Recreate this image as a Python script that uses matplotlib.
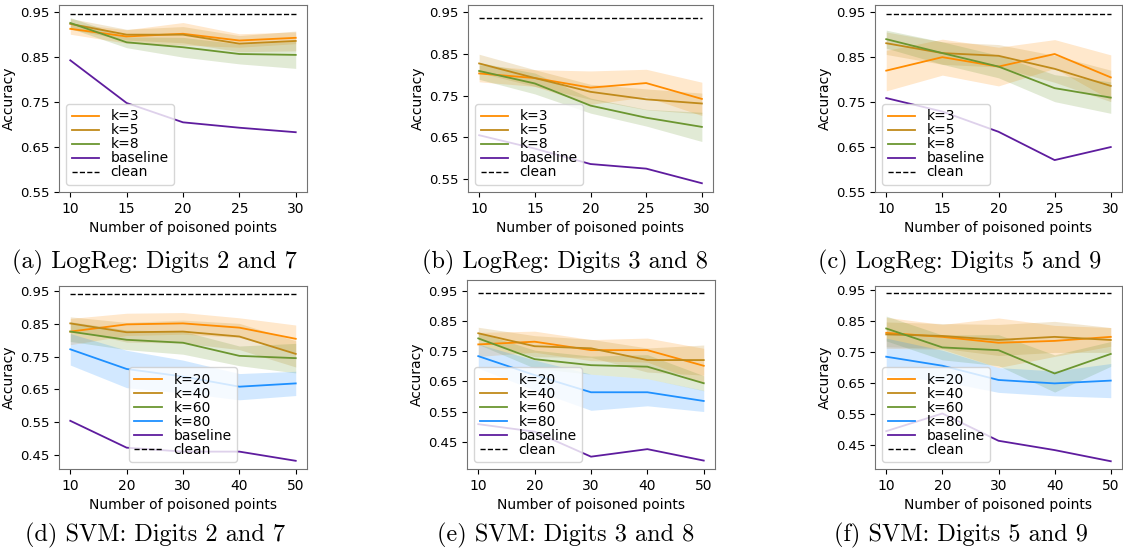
import matplotlib
matplotlib.use("Agg")
import matplotlib.pyplot as plt
import numpy as np

W, H = 1123, 550

# ---- data -------------------------------------------------------------
x_lr = [10, 15, 20, 25, 30]
x_svm = [10, 20, 30, 40, 50]

lr_labels = ["k=3", "k=5", "k=8"]
svm_labels = ["k=20", "k=40", "k=60", "k=80"]

# (a) LogReg digits 2 and 7
a_k3 = [0.913, 0.896, 0.902, 0.887, 0.893]
a_k5 = [0.924, 0.900, 0.900, 0.880, 0.886]
a_k8 = [0.926, 0.883, 0.872, 0.857, 0.855]
a_k3_sd = [0.012, 0.015, 0.025, 0.015, 0.013]
a_k5_sd = [0.012, 0.012, 0.018, 0.018, 0.022]
a_k8_sd = [0.012, 0.012, 0.022, 0.022, 0.030]
a_base = [0.843, 0.748, 0.705, 0.693, 0.683]
a_clean = 0.947

# (b) LogReg digits 3 and 8
b_k3 = [0.803, 0.792, 0.769, 0.780, 0.742]
b_k5 = [0.827, 0.792, 0.759, 0.741, 0.731]
b_k8 = [0.809, 0.779, 0.726, 0.697, 0.675]
b_k3_sd = [0.020, 0.020, 0.040, 0.033, 0.040]
b_k5_sd = [0.022, 0.020, 0.018, 0.025, 0.025]
b_k8_sd = [0.020, 0.025, 0.018, 0.020, 0.035]
b_base = [0.655, 0.623, 0.586, 0.575, 0.540]
b_clean = 0.936

# (c) LogReg digits 5 and 9
c_k3 = [0.820, 0.850, 0.829, 0.857, 0.805]
c_k5 = [0.881, 0.859, 0.853, 0.824, 0.786]
c_k8 = [0.890, 0.859, 0.829, 0.781, 0.760]
c_k3_sd = [0.045, 0.040, 0.043, 0.032, 0.050]
c_k5_sd = [0.025, 0.025, 0.025, 0.030, 0.035]
c_k8_sd = [0.020, 0.025, 0.025, 0.030, 0.035]
c_base = [0.759, 0.729, 0.684, 0.621, 0.650]
c_clean = 0.947

# (d) SVM digits 2 and 7
d_k20 = [0.826, 0.848, 0.851, 0.838, 0.804]
d_k40 = [0.851, 0.824, 0.826, 0.811, 0.758]
d_k60 = [0.826, 0.801, 0.792, 0.752, 0.745]
d_k80 = [0.772, 0.712, 0.689, 0.658, 0.668]
d_k20_sd = [0.040, 0.034, 0.033, 0.030, 0.042]
d_k40_sd = [0.020, 0.030, 0.035, 0.040, 0.040]
d_k60_sd = [0.030, 0.030, 0.035, 0.030, 0.045]
d_k80_sd = [0.048, 0.057, 0.050, 0.040, 0.037]
d_base = [0.554, 0.472, 0.460, 0.460, 0.432]
d_clean = 0.940

# (e) SVM digits 3 and 8
e_k20 = [0.773, 0.782, 0.754, 0.754, 0.702]
e_k40 = [0.810, 0.767, 0.760, 0.721, 0.721]
e_k60 = [0.793, 0.724, 0.704, 0.699, 0.644]
e_k80 = [0.734, 0.671, 0.614, 0.614, 0.585]
e_k20_sd = [0.040, 0.035, 0.035, 0.040, 0.058]
e_k40_sd = [0.020, 0.035, 0.030, 0.040, 0.050]
e_k60_sd = [0.020, 0.030, 0.030, 0.040, 0.025]
e_k80_sd = [0.040, 0.050, 0.060, 0.045, 0.035]
e_base = [0.508, 0.483, 0.400, 0.425, 0.387]
e_clean = 0.945

# (f) SVM digits 5 and 9
f_k20 = [0.812, 0.799, 0.780, 0.786, 0.799]
f_k40 = [0.807, 0.802, 0.789, 0.799, 0.789]
f_k60 = [0.826, 0.765, 0.756, 0.681, 0.744]
f_k80 = [0.735, 0.706, 0.660, 0.649, 0.658]
f_k20_sd = [0.050, 0.040, 0.080, 0.050, 0.030]
f_k40_sd = [0.040, 0.040, 0.050, 0.050, 0.040]
f_k60_sd = [0.040, 0.040, 0.050, 0.060, 0.040]
f_k80_sd = [0.060, 0.050, 0.040, 0.040, 0.055]
f_base = [0.495, 0.552, 0.464, 0.434, 0.398]
f_clean = 0.939

captions = [
    "(a) LogReg: Digits 2 and 7",
    "(b) LogReg: Digits 3 and 8",
    "(c) LogReg: Digits 5 and 9",
    "(d) SVM: Digits 2 and 7",
    "(e) SVM: Digits 3 and 8",
    "(f) SVM: Digits 5 and 9",
]

# ---- style ------------------------------------------------------------
lr_colors = ["#ff8c00", "#c08a1a", "#6b9630"]
svm_colors = ["#ff8c00", "#c08a1a", "#6b9630", "#1e90ff"]
base_color = "#5e1c9e"

plt.rcParams["font.size"] = 10
plt.rcParams["xtick.labelsize"] = 10
plt.rcParams["ytick.labelsize"] = 9.5
plt.rcParams["axes.edgecolor"] = "0.45"

fig = plt.figure(figsize=(W / 100, H / 100), dpi=100)


def px_axes(left, right, top, bottom):
    return fig.add_axes([left / W, 1 - bottom / H, (right - left) / W, (bottom - top) / H])


def panel(ax, x, means, sds, labels, colors, base, clean, ylim, yticks, leg_loc):
    x = np.array(x)
    for m, s, lab, c in zip(means, sds, labels, colors):
        m = np.array(m)
        s = np.array(s)
        ax.fill_between(x, m - s, m + s, color=c, alpha=0.2, linewidth=0)
        ax.plot(x, m, color=c, lw=1.3, label=lab)
    ax.plot(x, base, color=base_color, lw=1.3, label="baseline")
    ax.plot([x[0], x[-1]], [clean, clean], "k--", lw=1, label="clean")
    ax.set_ylim(*ylim)
    ax.set_yticks(yticks)
    ax.set_yticklabels(["%.2f" % t for t in yticks])
    ax.set_xticks(x)
    ax.set_xlabel("Number of poisoned points")
    ax.set_ylabel("Accuracy", labelpad=3)
    ax.legend(loc=leg_loc, labelspacing=0.0, handlelength=2.0, borderpad=0.4,
              fontsize=10)


lr_ticks = [0.55, 0.65, 0.75, 0.85, 0.95]
svm_ticks = [0.45, 0.55, 0.65, 0.75, 0.85, 0.95]

ax = px_axes(59, 307, 5, 192)
panel(ax, x_lr, [a_k3, a_k5, a_k8], [a_k3_sd, a_k5_sd, a_k8_sd], lr_labels, lr_colors,
      a_base, a_clean, (0.55, 0.966), lr_ticks, "lower left")
ax = px_axes(468, 713, 5, 192)
panel(ax, x_lr, [b_k3, b_k5, b_k8], [b_k3_sd, b_k5_sd, b_k8_sd], lr_labels, lr_colors,
      b_base, b_clean, (0.519, 0.967), lr_ticks, "lower left")
ax = px_axes(875, 1122, 5, 192)
panel(ax, x_lr, [c_k3, c_k5, c_k8], [c_k3_sd, c_k5_sd, c_k8_sd], lr_labels, lr_colors,
      c_base, c_clean, (0.55, 0.966), lr_ticks, "lower left")

ax = px_axes(59, 307, 286, 469)
panel(ax, x_svm, [d_k20, d_k40, d_k60, d_k80], [d_k20_sd, d_k40_sd, d_k60_sd, d_k80_sd],
      svm_labels, svm_colors, d_base, d_clean, (0.407, 0.965), svm_ticks, "lower center")
ax = px_axes(467, 715, 280, 469)
panel(ax, x_svm, [e_k20, e_k40, e_k60, e_k80], [e_k20_sd, e_k40_sd, e_k60_sd, e_k80_sd],
      svm_labels, svm_colors, e_base, e_clean, (0.359, 0.987), svm_ticks, "lower left")
ax = px_axes(875, 1122, 286, 469)
panel(ax, x_svm, [f_k20, f_k40, f_k60, f_k80], [f_k20_sd, f_k40_sd, f_k60_sd, f_k80_sd],
      svm_labels, svm_colors, f_base, f_clean, (0.373, 0.963), svm_ticks, "lower left")

cap_pos = [(154, 262), (565, 262), (960, 262), (155, 535), (566, 535), (961, 535)]
for (cx, cy), cap in zip(cap_pos, captions):
    fig.text(cx / W, 1 - cy / H, cap, ha="center", va="center", fontsize=17.5,
             family=["cmr10", "DejaVu Serif"])

fig.savefig("out.png", dpi=100)
